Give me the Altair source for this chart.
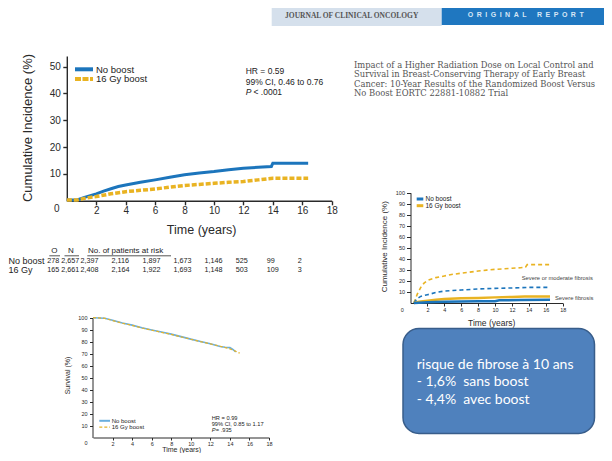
import altair as alt
import pandas as pd

# ---------------- data ----------------
# Top-left: cumulative incidence of local recurrence (%)
lr_no_t = [0, 0.7, 1.2, 2, 2.5, 3, 3.5, 4, 5, 6, 7, 8, 9, 10, 11, 12, 13, 13.9, 14.0, 16.4]
lr_no_v = [0.3, 0.3, 1.3, 2.6, 3.6, 4.5, 5.3, 5.9, 6.9, 7.8, 8.8, 9.7, 10.4, 10.9, 11.6, 12.1, 12.5, 12.8, 14.0, 14.0]
lr_bo_t = [0, 0.7, 1.2, 2, 3, 4, 5, 6, 7, 8, 9, 10, 11, 12, 13, 14, 16.4]
lr_bo_v = [0.3, 0.3, 0.9, 1.6, 2.6, 3.4, 3.9, 4.4, 5.1, 5.7, 6.1, 6.5, 6.9, 7.2, 7.8, 8.4, 8.4]

risk_times = [2, 4, 6, 8, 10, 12, 14, 16]
risk_no = [2397, 2116, 1897, 1673, 1146, 525, 99, 2]
risk_bo = [2408, 2164, 1922, 1693, 1148, 503, 109, 3]
events = [278, 165]
n_pat = [2657, 2661]

# Middle-right: fibrosis cumulative incidence (%)
fm_bo_t = [0.4, 0.8, 1.2, 1.6, 2, 3, 4, 5, 6, 7, 8, 9, 10, 11, 12, 13, 13.6, 13.8, 16.6]
fm_bo_v = [0, 8, 14, 18, 20.5, 23, 24.5, 26, 27, 28, 29, 29.8, 30.5, 31, 31.5, 32, 32.5, 34.8, 34.8]
fm_no_t = [0.4, 0.8, 1.2, 2, 3, 4, 5, 6, 8, 10, 12, 14, 16.5]
fm_no_v = [0, 4, 6, 7.5, 9.5, 10.8, 11.3, 11.8, 12.7, 13.3, 13.6, 14.2, 14.2]
fs_bo_t = [0.4, 1, 2, 3, 4, 6, 8, 10, 12, 13.5, 16.5]
fs_bo_v = [0, 1.2, 2.1, 3, 3.6, 4.2, 4.6, 5.1, 5.4, 5.8, 6.0]
fs_no_t = [0.4, 1, 2, 4, 6, 8, 10, 10.5, 13, 16.5]
fs_no_v = [0, 0.3, 0.6, 1.2, 1.3, 1.5, 1.6, 2.4, 2.8, 3.0]

# Bottom-left: overall survival (%)
os_no_t = [0, 1.2, 2, 3, 4, 5, 6, 7, 8, 9, 10, 11, 12, 13, 13.5, 14, 14.3, 14.6]
os_no_v = [100, 99.5, 97.8, 95.6, 93.8, 91.6, 89.8, 88, 86.3, 84.2, 82.1, 80.2, 78.2, 76, 75.3, 75, 73.5, 71.5]
os_bo_t = [0, 1.2, 2, 3, 4, 5, 6, 7, 8, 9, 10, 11, 12, 13, 14, 14.5, 15]
os_bo_v = [100, 99.5, 97.6, 95.4, 93.6, 91.4, 89.6, 87.8, 86.1, 84.0, 82.0, 80.0, 78.1, 76.2, 74.0, 72.3, 70.4]

x_ticks = [2, 4, 6, 8, 10, 12, 14, 16, 18]
title_lines = [
    "Impact of a Higher Radiation Dose on Local Control and",
    "Survival in Breast-Conserving Therapy of Early Breast",
    "Cancer: 10-Year Results of the Randomized Boost Versus",
    "No Boost EORTC 22881-10882 Trial",
]
box_lines = ["risque de fibrose à 10 ans", "- 1,6%\u00a0 sans boost", "- 4,4%\u00a0 avec boost"]

# ---------------- styling ----------------
W, H = 596, 445
SANS = "Liberation Sans, Arial, sans-serif"
SERIF = "DejaVu Serif, Liberation Serif, serif"
JSERIF = "Liberation Serif, Times New Roman, serif"
BOXF = "Lato, Liberation Sans, sans-serif"
BLUE, YEL = "#1C75BC", "#E9B322"
SBLUE, SYEL = "#6AAEDD", "#E3B32A"
INK = "#2A2A2A"


def X(p):
    return round(p - 8, 2)


def Y(p):
    return round(p - 8, 2)


ONE = pd.DataFrame({"k": [0]})


def txt(s, x, y, size, color="#222222", align="left", font=SANS, weight="normal", angle=0,
        style="normal", baseline="middle", **kw):
    return alt.Chart(pd.DataFrame({"s": [s]})).mark_text(
        align=align, baseline=baseline, fontSize=size, font=font, fontWeight=weight,
        color=color, angle=angle, fontStyle=style, **kw
    ).encode(text="s:N", x=alt.value(X(x)), y=alt.value(Y(y)))


def seg(x1, x2, y, color, width, dash=None):
    kw = dict(color=color, strokeWidth=width)
    if dash:
        kw["strokeDash"] = dash
    return alt.Chart(ONE).mark_rule(**kw).encode(
        x=alt.value(X(x1)), x2=alt.value(X(x2)), y=alt.value(Y(y)))


def rect(x1, y1, x2, y2, fill, **kw):
    return alt.Chart(ONE).mark_rect(fill=fill, **kw).encode(
        x=alt.value(X(x1)), x2=alt.value(X(x2)), y=alt.value(Y(y1)), y2=alt.value(Y(y2)))


def ax(orient, offset, values, fs, tick, pad, width):
    return alt.Axis(
        orient=orient, offset=offset, values=values, title=None, grid=False,
        labelFont=SANS, labelFontSize=fs, labelColor=INK, labelPadding=pad,
        tickSize=tick, tickColor=INK, tickWidth=width, domainColor=INK, domainWidth=width,
        labelFlush=False, labelOverlap=False,
    )


def panel(series, xdom, xr, ydom, yr, xaxis, yaxis):
    xs = alt.Scale(domain=xdom, range=xr, nice=False, zero=False)
    ys = alt.Scale(domain=ydom, range=yr, nice=False, zero=False)
    layers = []
    for t, v, color, width, dash in series:
        mk = dict(color=color, strokeWidth=width)
        if dash:
            mk["strokeDash"] = dash
        layers.append(
            alt.Chart(pd.DataFrame({"t": t, "v": v})).mark_line(**mk).encode(
                x=alt.X("t:Q", scale=xs, axis=xaxis),
                y=alt.Y("v:Q", scale=ys, axis=yaxis),
            )
        )
    return alt.layer(*layers)


# ---------------- panels ----------------
pA = panel(
    [(lr_no_t, lr_no_v, BLUE, 3, None), (lr_bo_t, lr_bo_v, YEL, 3.5, [5, 2])],
    [0, 18], [X(66.8), X(331.7)], [0, 54], [Y(200.8), Y(55.9)],
    ax("bottom", Y(200.8) - H, x_ticks, 10, 4, 0.5, 1.4),
    ax("left", -X(66.8), [10, 20, 30, 40, 50], 10, 4, 2.5, 1.4),
)

pB = panel(
    [(fm_bo_t, fm_bo_v, YEL, 1.6, [4, 3]), (fm_no_t, fm_no_v, BLUE, 1.6, [4, 3]),
     (fs_bo_t, fs_bo_v, YEL, 2.5, None), (fs_no_t, fs_no_v, BLUE, 2.5, None)],
    [0, 18], [X(410.5), X(562.7)], [0, 100], [Y(303), Y(192.7)],
    ax("bottom", Y(303) - H, x_ticks, 5.5, 3, 1.5, 1),
    ax("left", -X(410.5), list(range(10, 101, 10)), 5.5, 4, 2, 1),
)

C0 = 437.5  # survival x-axis baseline (page px)
pC = panel(
    [(os_no_t, os_no_v, SBLUE, 1.6, None), (os_bo_t, os_bo_v, SYEL, 1.2, [3, 2])],
    [0, 18], [X(93), X(269)], [0, 100], [Y(C0), Y(317.7)],
    ax("bottom", Y(C0) - H, x_ticks, 5.5, 2.5, 1, 1),
    ax("left", -X(92.5), list(range(10, 101, 10)), 5.5, 3, 2.5, 1),
)

# risk table
rs = alt.Scale(domain=[2, 16], range=[X(80.5), X(297.7)], nice=False, zero=False)
RF = 7.2


def risk_row(vals, y):
    df = pd.DataFrame({"t": risk_times, "n": vals})
    return alt.Chart(df).mark_text(
        align="left", baseline="middle", fontSize=RF, font=SANS, color="#222222"
    ).encode(x=alt.X("t:Q", scale=rs, axis=None), y=alt.value(Y(y)),
             text=alt.Text("n:Q", format=","))


risk = alt.layer(risk_row(risk_no, 260.5), risk_row(risk_bo, 269.5))

layers = [
    # journal header
    rect(271.7, 0, 441.7, 26, "#D5E0EC"),
    rect(441.7, 0, 612, 25, "#1F77C0"),
    txt("JOURNAL OF CLINICAL ONCOLOGY", 351.7, 15.5, 7.5, "#555555", "center", JSERIF, "bold"),
    txt("\u2002".join("ORIGINAL") + "\u2002\u2002\u2002" + "\u2002".join("REPORT"),
        525.7, 15, 7, "#D6E6F5", "center", SANS, "bold"),
    # panel A
    pA,
    txt("Cumulative Incidence (%)", 28, 128, 13, INK, "center", angle=270),
    txt("Time (years)", 201.7, 230, 12.5, INK, "center"),
    txt("0", 56.7, 209, 10, INK, "center"),
    seg(75, 93, 69.3, BLUE, 4),
    seg(75, 93, 79, YEL, 4, [6, 1.5]),
    txt("No boost", 96, 69.5, 9.5),
    txt("16 Gy boost", 96, 79.2, 9.5),
    txt("HR = 0.59", 245.7, 71, 8.5),
    txt("99% CI, 0.46 to 0.76", 245.7, 81.5, 8.5),
    txt("P", 245.7, 91.5, 8.5, style="italic"),
    txt("< .0001", 253.5, 91.5, 8.5),
    # risk table
    txt("O", 54.3, 251, 8, align="center"),
    txt("N", 71, 251, 8, align="center"),
    txt("No. of patients at risk", 88, 251, 8),
    seg(49.3, 60, 255.8, INK, 0.8),
    seg(64.5, 79, 255.8, INK, 0.8),
    seg(87.3, 171, 255.8, INK, 0.8),
    txt("No boost", 8.5, 260.5, 9),
    txt("16 Gy", 8.5, 269.5, 9),
    txt(f"{events[0]:,}", 59.3, 260.5, RF, align="right"),
    txt(f"{events[1]:,}", 59.3, 269.5, RF, align="right"),
    txt(f"{n_pat[0]:,}", 61.2, 260.5, RF),
    txt(f"{n_pat[1]:,}", 61.2, 269.5, RF),
    risk,
    # article title
    *[txt(s, 354, 65.3 + 9.1 * i, 8.4, "#555555", font=SERIF) for i, s in enumerate(title_lines)],
    # panel B
    pB,
    txt("Cumulative Incidence (%)", 385, 246.7, 8, INK, "center", angle=270),
    txt("Time (years)", 491.7, 323.3, 8.5, INK, "center"),
    txt("0", 402.3, 310, 5.5, INK, "center"),
    seg(416.7, 423.3, 199, BLUE, 3),
    seg(416.7, 423.3, 205.7, YEL, 3),
    txt("No boost", 425.5, 199, 6.5),
    txt("16 Gy boost", 425.5, 205.7, 6.5),
    txt("Severe or moderate fibrosis", 521.7, 277.7, 5.8, "#444444"),
    txt("Severe fibrosis", 555, 297.7, 5.8, "#444444"),
    # panel C
    pC,
    txt("Survival (%)", 68.3, 375.5, 7, INK, "center", angle=270),
    txt("Time (years)", 181.7, 449.6, 7, INK, "center"),
    txt("0", 86, 443.3, 5.5, INK, "center"),
    seg(99.3, 110, 420.8, SBLUE, 2),
    seg(99.3, 110, 427.2, SYEL, 1.2, [3, 2]),
    txt("No boost", 111.7, 420.8, 6),
    txt("16 Gy boost", 111.7, 427.2, 6),
    txt("HR = 0.99", 211.7, 418.2, 5.7),
    txt("99% CI, 0.85 to 1.17", 211.7, 424.2, 5.7),
    txt("P", 211.7, 430, 5.7, style="italic"),
    txt("= .935", 215.8, 430, 5.7),
    # text box
    rect(403, 328.5, 594.5, 433.5, "#4F81BD", stroke="#385D8A", strokeWidth=1.5, cornerRadius=16),
    *[txt(s, 416.7, 364.5 + 17.8 * i, 14, "#FFFFFF", font=BOXF) for i, s in enumerate(box_lines)],
]

chart = alt.layer(*layers).resolve_scale(x="independent", y="independent").properties(
    width=W, height=H, autosize=alt.AutoSizeParams(type="none"), padding=0
).configure_view(stroke=None)

chart.save("out.html", embed_options={"renderer": "svg", "actions": False})
